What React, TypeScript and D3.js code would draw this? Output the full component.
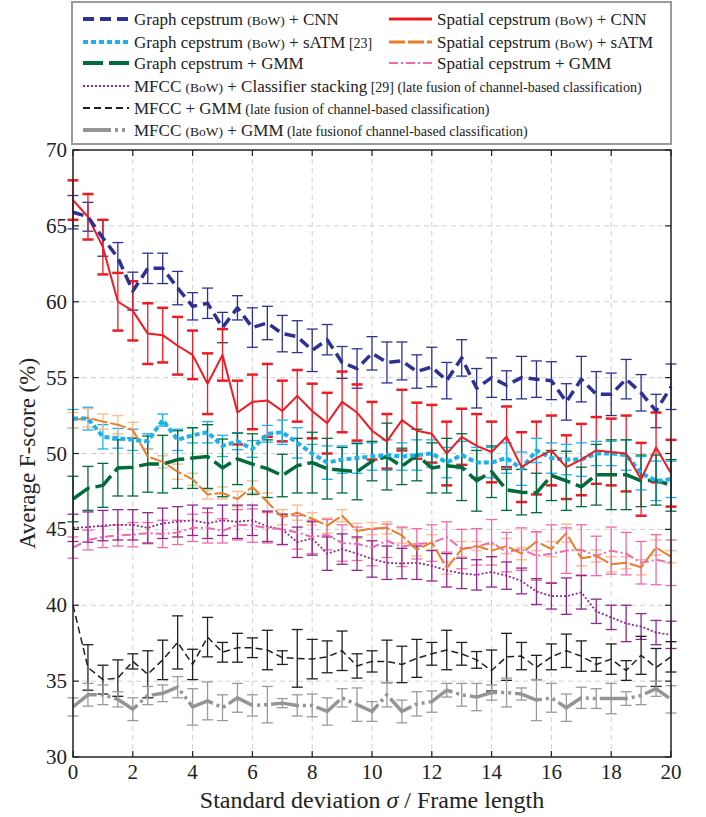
import * as d3 from 'd3';
import { useEffect, useRef } from 'react';

// sigma / frame length
const sigma = [0, 0.5, 1, 1.5, 2, 2.5, 3, 3.5, 4, 4.5, 5, 5.5, 6, 6.5, 7, 7.5, 8, 8.5, 9, 9.5, 10,
  10.5, 11, 11.5, 12, 12.5, 13, 13.5, 14, 14.5, 15, 15.5, 16, 16.5, 17, 17.5, 18, 18.5, 19, 19.5, 20];

const graphCnn = [65.9, 65.6, 64.2, 62.9, 60.7, 62.2, 62.2, 60.9, 59.7, 59.9, 58.3, 59.6, 58.3, 58.6, 57.9, 57.7, 56.8, 57.5, 56.0, 55.6, 56.6, 56.0, 56.1, 55.4, 55.7, 54.8, 56.3, 54.3, 55.0, 54.5, 55.0, 54.9, 54.8, 53.4, 54.9, 53.9, 53.9, 54.9, 54.0, 52.8, 54.4];
const graphCnnErr = [1.1, 0.95, 1.2, 1.0, 1.25, 1.0, 1.0, 1.1, 0.9, 1.0, 1.0, 0.8, 1.3, 1.1, 1.2, 1.05, 1.4, 1.0, 1.05, 1.3, 1.1, 1.35, 1.25, 1.1, 1.3, 1.2, 1.2, 1.3, 1.3, 0.95, 1.4, 1.2, 1.25, 1.2, 1.5, 1.5, 1.4, 1.3, 1.2, 1.1, 1.5];

const spatialCnn = [66.7, 65.6, 63.6, 60.0, 59.4, 57.9, 57.8, 57.1, 56.5, 54.6, 56.5, 52.7, 53.4, 53.5, 52.8, 53.8, 52.8, 52.0, 53.4, 52.7, 51.5, 50.8, 52.2, 51.5, 51.3, 50.0, 51.1, 50.5, 50.1, 51.1, 49.1, 49.7, 50.2, 49.1, 49.6, 50.2, 50.1, 50.0, 48.3, 50.4, 48.7];
const spatialCnnErr = [1.3, 1.5, 1.8, 1.9, 1.95, 2.0, 1.8, 1.9, 1.6, 2.0, 1.7, 2.1, 1.8, 2.4, 2.0, 1.7, 1.8, 2.0, 2.0, 1.85, 1.9, 1.8, 2.0, 1.85, 1.9, 2.1, 1.85, 2.1, 2.0, 2.0, 2.3, 2.4, 2.3, 2.1, 2.35, 2.2, 2.2, 2.5, 2.4, 2.3, 2.2];

const graphSatm = [52.3, 52.3, 51.1, 51.0, 50.9, 50.8, 52.2, 50.9, 51.2, 51.4, 50.5, 50.8, 50.3, 51.3, 51.4, 50.7, 50.0, 49.4, 49.6, 49.7, 49.8, 49.9, 49.8, 49.9, 50.0, 49.4, 49.9, 49.4, 49.4, 49.7, 49.0, 50.2, 49.7, 49.6, 49.6, 50.0, 50.0, 49.9, 48.7, 48.2, 48.3];
const graphSatmErr = [0.6, 0.75, 0.8, 0.65, 0.7, 0.5, 0.4, 0.7, 0.5, 0.7, 0.7, 0.55, 0.55, 0.55, 0.8, 1.0, 0.6, 1.1, 0.9, 1.0, 0.9, 1.0, 0.9, 1.0, 0.9, 1.0, 0.9, 1.0, 1.0, 1.0, 1.1, 0.8, 1.0, 1.0, 1.1, 0.8, 0.8, 1.0, 1.1, 1.3, 1.2];

const spatialSatm = [52.2, 52.35, 52.1, 51.9, 51.55, 49.8, 49.45, 48.8, 48.3, 47.3, 47.4, 47.0, 47.8, 46.8, 45.8, 46.1, 45.7, 45.25, 45.9, 44.9, 45.05, 45.1, 44.6, 43.65, 44.15, 42.45, 43.7, 43.9, 43.6, 43.9, 43.4, 44.2, 43.7, 44.75, 43.1, 43.25, 42.7, 42.8, 42.5, 43.8, 43.2];
const spatialSatmErr = [0.5, 0.6, 0.5, 0.6, 0.5, 0.5, 0.4, 0.5, 0.4, 0.3, 0.4, 0.5, 0.4, 0.6, 0.5, 0.5, 0.4, 0.5, 0.4, 0.5, 0.4, 0.4, 0.5, 0.4, 0.5, 0.4, 0.5, 0.3, 0.4, 0.5, 0.4, 0.6, 0.5, 0.6, 0.5, 0.4, 0.5, 0.4, 0.5, 0.5, 0.4];

const graphGmm = [47.0, 47.7, 47.9, 49.05, 49.1, 49.3, 49.3, 49.6, 49.7, 49.8, 49.05, 49.65, 49.3, 49.0, 48.55, 49.2, 49.4, 49.0, 48.9, 48.8, 49.5, 49.8, 49.15, 49.9, 49.05, 49.2, 49.1, 48.2, 48.8, 47.6, 47.45, 47.4, 48.55, 48.2, 47.8, 48.6, 48.6, 48.6, 48.2, 48.25, 47.9];
const graphGmmErr = [1.5, 1.45, 1.45, 1.85, 1.9, 1.85, 1.9, 1.9, 2.0, 2.1, 1.9, 1.7, 2.0, 1.9, 1.4, 1.8, 2.0, 2.0, 1.5, 1.85, 1.3, 2.2, 1.2, 1.7, 1.65, 1.8, 2.2, 2.0, 1.7, 1.35, 1.5, 1.3, 1.65, 1.95, 1.3, 2.0, 2.3, 2.3, 1.7, 1.65, 1.7];

const spatialGmm = [43.8, 44.3, 44.5, 44.6, 44.65, 44.75, 44.7, 44.8, 45.1, 45.1, 44.9, 45.3, 45.25, 45.1, 45.0, 44.8, 44.5, 44.65, 44.1, 44.05, 43.8, 44.25, 43.85, 44.05, 44.1, 44.5, 43.7, 43.85, 44.15, 43.5, 43.7, 43.25, 43.4, 43.6, 43.65, 43.25, 43.6, 43.4, 42.8, 43.0, 42.8];
const spatialGmmErr = [0.7, 0.65, 0.7, 0.7, 0.8, 0.7, 0.9, 0.8, 0.9, 1.0, 0.8, 1.0, 1.1, 1.0, 1.0, 1.1, 1.1, 1.0, 1.2, 1.1, 1.2, 1.1, 1.3, 1.0, 1.2, 1.0, 1.3, 1.2, 1.5, 1.3, 1.4, 1.6, 1.9, 1.5, 1.65, 1.3, 1.55, 1.4, 1.4, 1.65, 1.5];

const mfccStack = [45.1, 45.15, 45.25, 45.3, 45.3, 45.1, 45.4, 45.5, 45.6, 45.4, 45.6, 45.5, 45.6, 45.2, 45.0, 44.15, 44.4, 43.4, 43.7, 43.4, 43.05, 42.8, 42.75, 42.8, 42.6, 42.3, 42.1, 42.0, 42.2, 41.95, 41.6, 40.9, 40.6, 40.6, 40.85, 39.6, 39.2, 38.8, 38.6, 38.2, 38.05];
const mfccStackErr = [0.9, 1.0, 1.0, 1.0, 1.0, 1.0, 1.0, 1.0, 1.0, 1.0, 1.0, 1.1, 1.0, 1.0, 1.0, 1.0, 1.1, 1.1, 1.0, 1.1, 1.2, 1.1, 1.0, 1.1, 1.0, 1.1, 1.0, 1.0, 1.0, 0.9, 0.85, 0.85, 0.85, 1.2, 1.1, 0.8, 0.8, 1.2, 0.85, 0.8, 0.9];

const mfccGmm = [40.0, 35.9, 35.1, 35.2, 36.3, 35.45, 36.4, 37.55, 36.1, 37.9, 36.9, 37.2, 37.2, 37.05, 36.55, 36.5, 36.45, 36.6, 37.0, 36.0, 36.3, 36.3, 36.1, 36.5, 36.8, 37.05, 36.8, 36.4, 35.7, 36.6, 36.65, 35.9, 36.6, 37.0, 36.65, 36.1, 36.45, 35.7, 36.7, 35.9, 36.6];
const mfccGmmErr = [0, 1.5, 0.95, 1.2, 0.5, 1.55, 1.3, 1.75, 1.0, 1.3, 0.65, 0.95, 0.65, 1.3, 0.45, 1.9, 1.3, 1.05, 1.3, 0.8, 0.7, 1.4, 1.2, 1.25, 0.75, 1.3, 0.75, 0.55, 1.35, 1.55, 0.9, 0.8, 0.85, 1.1, 1.0, 0.45, 1.0, 0.65, 1.25, 1.25, 1.0];

const mfccBowGmm = [33.3, 34.1, 34.1, 33.8, 33.15, 34.05, 34.2, 34.6, 33.3, 33.7, 33.25, 33.9, 33.4, 33.45, 33.55, 33.4, 33.4, 33.0, 33.9, 33.45, 33.0, 34.1, 33.0, 33.5, 33.65, 34.4, 34.1, 33.95, 34.25, 34.25, 34.15, 33.75, 33.9, 33.25, 33.9, 33.85, 33.85, 33.85, 34.05, 34.5, 33.8];
const mfccBowGmmErr = [0.6, 0.75, 0.65, 0.5, 0.75, 0.6, 0.55, 0.7, 1.2, 1.25, 0.85, 0.95, 0.7, 1.2, 0.3, 0.7, 0.75, 0.9, 0.6, 1.1, 0.65, 0.8, 0.75, 0.8, 0.7, 0.45, 0.75, 0.9, 0.5, 0.95, 0.4, 1.35, 0.95, 0.9, 0.7, 0.65, 1.0, 0.45, 0.6, 0.5, 0.9];

const xTicks = [0, 2, 4, 6, 8, 10, 12, 14, 16, 18, 20];
const yTicks = [30, 35, 40, 45, 50, 55, 60, 65, 70];

type Series = {
  main: string; small?: string; tail?: string; ref?: string; note?: string;
  values: number[]; err: number[];
  color: string; errColor: string; width: number; dash: string;
  capWidth: number; legendWidth: number; col: number; row: number;
};

const series: Series[] = [
  { main: 'Graph cepstrum ', small: '(BoW)', tail: ' + CNN', values: graphCnn, err: graphCnnErr, color: '#2e3192', errColor: '#2e3192', width: 3.5, dash: '11,6', capWidth: 1.3, legendWidth: 4, col: 0, row: 0 },
  { main: 'Spatial cepstrum ', small: '(BoW)', tail: ' + CNN', values: spatialCnn, err: spatialCnnErr, color: '#ed1c24', errColor: '#ed1c24', width: 2, dash: '', capWidth: 2.5, legendWidth: 3, col: 1, row: 0 },
  { main: 'Graph cepstrum ', small: '(BoW)', tail: ' + sATM', ref: ' [23]', values: graphSatm, err: graphSatmErr, color: '#1cb0ec', errColor: '#1cb0ec', width: 4, dash: '5,3', capWidth: 1.3, legendWidth: 4, col: 0, row: 1 },
  { main: 'Spatial cepstrum ', small: '(BoW)', tail: ' + sATM', values: spatialSatm, err: spatialSatmErr, color: '#eb7d2a', errColor: '#f7bf93', width: 2, dash: '16,3', capWidth: 1.5, legendWidth: 3, col: 1, row: 1 },
  { main: 'Graph cepstrum + GMM', values: graphGmm, err: graphGmmErr, color: '#006b3c', errColor: '#006b3c', width: 3.5, dash: '20,6', capWidth: 1.3, legendWidth: 4, col: 0, row: 2 },
  { main: 'Spatial cepstrum + GMM', values: spatialGmm, err: spatialGmmErr, color: '#f06aa9', errColor: '#f06aa9', width: 2, dash: '9,3,2,3', capWidth: 1.3, legendWidth: 2, col: 1, row: 2 },
  { main: 'MFCC ', small: '(BoW)', tail: ' + Classifier stacking', ref: ' [29]', note: '  (late fusion of channel-based classification)', values: mfccStack, err: mfccStackErr, color: '#92278f', errColor: '#92278f', width: 1.8, dash: '2,2', capWidth: 1.3, legendWidth: 1.8, col: 0, row: 3 },
  { main: 'MFCC + GMM', note: ' (late fusion of channel-based classification)', values: mfccGmm, err: mfccGmmErr, color: '#231f20', errColor: '#231f20', width: 1.5, dash: '7,4', capWidth: 1.3, legendWidth: 2, col: 0, row: 4 },
  { main: 'MFCC ', small: '(BoW)', tail: ' + GMM', note: ' (late fusionof channel-based classification)', values: mfccBowGmm, err: mfccBowGmmErr, color: '#959595', errColor: '#9a9a9a', width: 3.5, dash: '28,4,3,4,3,4', capWidth: 1.3, legendWidth: 4, col: 0, row: 5 },
];

const FONT = "'Liberation Serif', 'Times New Roman', 'DejaVu Serif', serif";

const App = () => {
  const ref = useRef<SVGSVGElement | null>(null);

  useEffect(() => {
    const width = 706;
    const height = 817;
    const left = 73;
    const right = 671;
    const top = 150;
    const bottom = 757;

    const svg = d3.select(ref.current).attr('width', width).attr('height', height)
      .style('font-family', FONT);
    svg.selectAll('*').remove();

    const x = d3.scaleLinear().domain([0, 20]).range([left, right]);
    const y = d3.scaleLinear().domain([30, 70]).range([bottom, top]);

    // grid
    const grid = svg.append('g');
    xTicks.slice(1, -1).forEach((t) => {
      grid.append('line').attr('x1', x(t)).attr('x2', x(t)).attr('y1', top).attr('y2', bottom)
        .attr('stroke', '#d0d0d0').attr('stroke-width', 1).attr('stroke-dasharray', '5,4');
    });
    yTicks.slice(1, -1).forEach((t) => {
      grid.append('line').attr('x1', left).attr('x2', right).attr('y1', y(t)).attr('y2', y(t))
        .attr('stroke', '#d0d0d0').attr('stroke-width', 1).attr('stroke-dasharray', '5,4');
    });

    // error bars then lines
    const plot = svg.append('g');
    series.forEach((s) => {
      const eb = plot.append('g').attr('stroke', s.errColor).attr('stroke-width', 1.3);
      sigma.forEach((sx, i) => {
        const e = s.err[i];
        if (!e) return;
        const cx = x(sx);
        const y1 = y(s.values[i] + e);
        const y2 = y(s.values[i] - e);
        eb.append('line').attr('x1', cx).attr('x2', cx).attr('y1', y1).attr('y2', y2);
        [y1, y2].forEach((yy) => {
          eb.append('line').attr('x1', cx - 5.5).attr('x2', cx + 5.5).attr('y1', yy).attr('y2', yy)
            .attr('stroke-width', s.capWidth);
        });
      });
    });

    const line = d3.line<number>().x((_, i) => x(sigma[i])).y((d) => y(d));
    series.slice().reverse().forEach((s) => {
      plot.append('path').attr('d', line(s.values))
        .attr('fill', 'none').attr('stroke', s.color).attr('stroke-width', s.width)
        .attr('stroke-dasharray', s.dash || null).attr('stroke-linejoin', 'round');
    });

    // frame
    svg.append('rect').attr('x', left).attr('y', top).attr('width', right - left).attr('height', bottom - top)
      .attr('fill', 'none').attr('stroke', '#222').attr('stroke-width', 1.5);

    // ticks (inward, all four sides)
    const ticks = svg.append('g').attr('stroke', '#222').attr('stroke-width', 1.2);
    xTicks.forEach((t) => {
      ticks.append('line').attr('x1', x(t)).attr('x2', x(t)).attr('y1', bottom).attr('y2', bottom - 6);
      ticks.append('line').attr('x1', x(t)).attr('x2', x(t)).attr('y1', top).attr('y2', top + 6);
    });
    yTicks.forEach((t) => {
      ticks.append('line').attr('x1', left).attr('x2', left + 6).attr('y1', y(t)).attr('y2', y(t));
      ticks.append('line').attr('x1', right).attr('x2', right - 6).attr('y1', y(t)).attr('y2', y(t));
    });

    // tick labels
    const labels = svg.append('g').attr('font-size', 21).attr('fill', '#222');
    xTicks.forEach((t) => {
      labels.append('text').attr('x', x(t)).attr('y', bottom + 22).attr('text-anchor', 'middle').text(t);
    });
    yTicks.forEach((t) => {
      labels.append('text').attr('x', left - 6).attr('y', y(t) + 7).attr('text-anchor', 'end').text(t);
    });

    // axis titles
    const xt = svg.append('text').attr('x', 372).attr('y', 808).attr('text-anchor', 'middle')
      .attr('font-size', 24).attr('fill', '#222');
    xt.append('tspan').text('Standard deviation ');
    xt.append('tspan').attr('font-style', 'italic').text('σ');
    xt.append('tspan').text(' / Frame length');

    svg.append('text').attr('transform', `translate(35,${(top + bottom) / 2}) rotate(-90)`)
      .attr('text-anchor', 'middle').attr('font-size', 23).attr('fill', '#222')
      .text('Average F-score (%)');

    // legend
    const lg = svg.append('g');
    lg.append('rect').attr('x', 72).attr('y', 2).attr('width', 599).attr('height', 142)
      .attr('fill', '#fff').attr('stroke', '#9a9a9a').attr('stroke-width', 2);
    const rowY = [19, 42, 63, 86, 108, 130];
    const colX = [[83, 129, 134], [389, 432, 437]];
    series.forEach((s) => {
      const [x1, x2, tx] = colX[s.col];
      const yy = rowY[s.row];
      lg.append('line').attr('x1', x1).attr('x2', x2).attr('y1', yy).attr('y2', yy)
        .attr('stroke', s.color).attr('stroke-width', s.legendWidth).attr('stroke-dasharray', s.dash || null);
      const t = lg.append('text').attr('x', tx).attr('y', yy + 6)
        .attr('font-size', 17).attr('fill', '#222');
      t.append('tspan').text(s.main);
      if (s.small) t.append('tspan').attr('font-size', 13.5).text(s.small);
      if (s.tail) t.append('tspan').text(s.tail);
      if (s.ref) t.append('tspan').attr('font-size', 14).text(s.ref);
      if (s.note) t.append('tspan').attr('font-size', 14).text(s.note);
    });
  }, []);

  return <svg ref={ref} style={{ position: 'absolute', left: 0, top: 0 }}></svg>;
};

export default App;
